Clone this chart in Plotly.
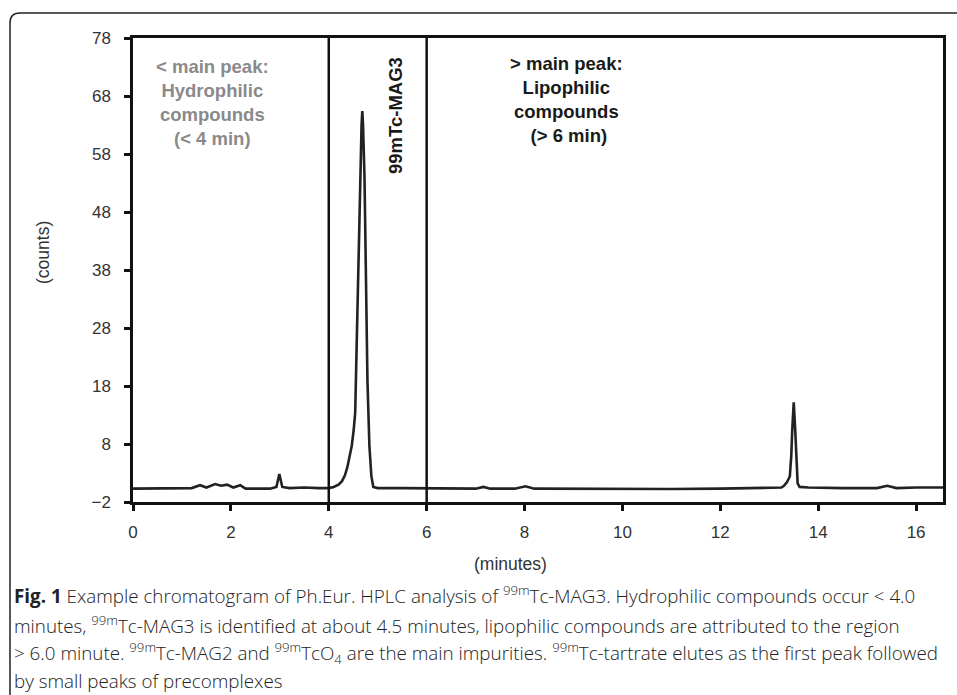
import plotly.graph_objects as go

# ---- data ----
time_min = [0.0, 0.5, 1.0, 1.2, 1.37, 1.5, 1.68, 1.8, 1.92, 2.05, 2.19, 2.3, 2.8, 2.93, 2.99, 3.05,
            3.2, 3.5, 3.8, 4.0, 4.1, 4.2, 4.27, 4.33, 4.38, 4.43, 4.47, 4.51, 4.54, 4.57, 4.61,
            4.64, 4.67, 4.685, 4.70, 4.73, 4.76, 4.79, 4.83, 4.87, 4.91, 5.0, 5.5, 6.0, 6.5, 7.0,
            7.16, 7.3, 7.8, 8.02, 8.2, 9.0, 10.0, 11.0, 12.0, 13.0, 13.25, 13.3, 13.36, 13.42,
            13.45, 13.47, 13.5, 13.53, 13.56, 13.58, 13.62, 13.8, 14.5, 15.2, 15.41, 15.6, 16.0, 16.55]
counts = [0.3, 0.3, 0.3, 0.4, 0.9, 0.5, 1.1, 0.8, 1.0, 0.5, 0.9, 0.3, 0.3, 0.6, 2.8, 0.6,
          0.4, 0.5, 0.4, 0.4, 0.6, 1.0, 1.6, 2.6, 4.0, 5.8, 7.7, 10.5, 13.4, 25.0, 42.0,
          54.0, 63.0, 65.4, 63.0, 54.0, 36.0, 19.0, 7.7, 2.5, 0.6, 0.4, 0.4, 0.4, 0.3, 0.3,
          0.6, 0.3, 0.3, 0.7, 0.3, 0.25, 0.25, 0.25, 0.3, 0.45, 0.5, 0.8, 1.4, 2.4,
          6.0, 10.5, 15.2, 10.5, 4.0, 1.2, 0.6, 0.5, 0.4, 0.4, 0.8, 0.4, 0.5, 0.5]

region_bounds = [4, 6]
x_ticks = [0, 2, 4, 6, 8, 10, 12, 14, 16]
y_ticks = [-2, 8, 18, 28, 38, 48, 58, 68, 78]

caption_lines = [
    "<b>Fig. 1</b> Example chromatogram of Ph.Eur. HPLC analysis of <sup>99m</sup>Tc-MAG3. Hydrophilic compounds occur &lt; 4.0",
    "minutes, <sup>99m</sup>Tc-MAG3 is identified at about 4.5 minutes, lipophilic compounds are attributed to the region",
    "&gt; 6.0 minute. <sup>99m</sup>Tc-MAG2 and <sup>99m</sup>TcO<sub>4</sub> are the main impurities. <sup>99m</sup>Tc-tartrate elutes as the first peak followed",
    "by small peaks of precomplexes",
]

W, H = 957, 695
L, R, T, B = 133, 14, 38, 193
pw, ph = W - L - R, H - T - B

def px2x(px):
    return (px - L) / pw

def py2y(py):
    return (H - B - py) / ph

fig = go.Figure()
fig.add_trace(go.Scatter(x=time_min, y=counts, mode="lines",
                         line=dict(color="#222222", width=2.6), showlegend=False,
                         hoverinfo="skip"))

shapes = []
for b in region_bounds:
    shapes.append(dict(type="line", xref="x", yref="paper", x0=b, x1=b, y0=0, y1=1,
                       line=dict(color="#111111", width=2.5)))

# outer rounded frame of the figure panel
x0, y0 = px2x(10), py2y(13)
xr, yb = px2x(975), py2y(710)
dx, dy = 10 / pw, 10 / ph
shapes.append(dict(type="path", xref="paper", yref="paper",
                   path=f"M {x0},{yb} L {x0},{y0-dy} Q {x0},{y0} {x0+dx},{y0} L {xr},{y0}",
                   line=dict(color="#222222", width=1.5)))

font_b = "Liberation Sans, Arial, sans-serif"
annotations = [
    dict(xref="x", yref="paper", x=1.62, y=py2y(54), yanchor="top", xanchor="center",
         text="<b>&lt; main peak:<br>Hydrophilic<br>compounds<br>(&lt; 4 min)</b>",
         showarrow=False, align="center",
         font=dict(family=font_b, size=18.5, color="#8a8a8a")),
    dict(xref="x", yref="paper", x=8.85, y=py2y(51), yanchor="top", xanchor="center",
         text="<b>&gt; main peak:<br>Lipophilic<br>compounds<br> (&gt; 6 min)</b>",
         showarrow=False, align="center",
         font=dict(family=font_b, size=18.5, color="#1a1a1a")),
    dict(xref="paper", yref="paper", x=px2x(395), y=py2y(116), textangle=-90,
         xanchor="center", yanchor="middle",
         text="<b>99mTc-MAG3</b>", showarrow=False,
         font=dict(family=font_b, size=18.5, color="#1a1a1a")),
    dict(xref="paper", yref="paper", x=px2x(510), y=py2y(564),
         xanchor="center", yanchor="middle",
         text="(minutes)", showarrow=False,
         font=dict(family=font_b, size=17.5, color="#333333")),
    dict(xref="paper", yref="paper", x=px2x(43), y=py2y(253), textangle=-90,
         xanchor="center", yanchor="middle",
         text="(counts)", showarrow=False,
         font=dict(family=font_b, size=17.5, color="#333333")),
]
cap_y = [595, 625, 653, 681]
for txt, cy in zip(caption_lines, cap_y):
    annotations.append(dict(xref="paper", yref="paper", x=px2x(12), y=py2y(cy),
                            xanchor="left", yanchor="middle", text=txt, showarrow=False,
                            font=dict(family="Open Sans, Noto Sans, sans-serif",
                                      size=18.8, weight=300, color="#222222")))

axis_common = dict(showline=True, linecolor="#111111", linewidth=2.5, mirror=True,
                   ticks="outside", ticklen=6, tickwidth=2.5, tickcolor="#111111",
                   showgrid=False, zeroline=False,
                   tickfont=dict(family=font_b, size=17, color="#333333"))

fig.update_layout(
    width=W, height=H,
    margin=dict(l=L, r=R, t=T, b=B, pad=0),
    paper_bgcolor="white", plot_bgcolor="white",
    xaxis=dict(range=[0, 16.55], tickvals=x_ticks, ticklabelstandoff=7, **axis_common),
    yaxis=dict(range=[-2, 78], tickvals=y_ticks, ticklabelstandoff=10, **axis_common),
    shapes=shapes, annotations=annotations,
)

fig.write_html("out.html", config={"displayModeBar": False},
               post_script="document.body.style.margin='0';document.body.style.overflow='hidden';")
